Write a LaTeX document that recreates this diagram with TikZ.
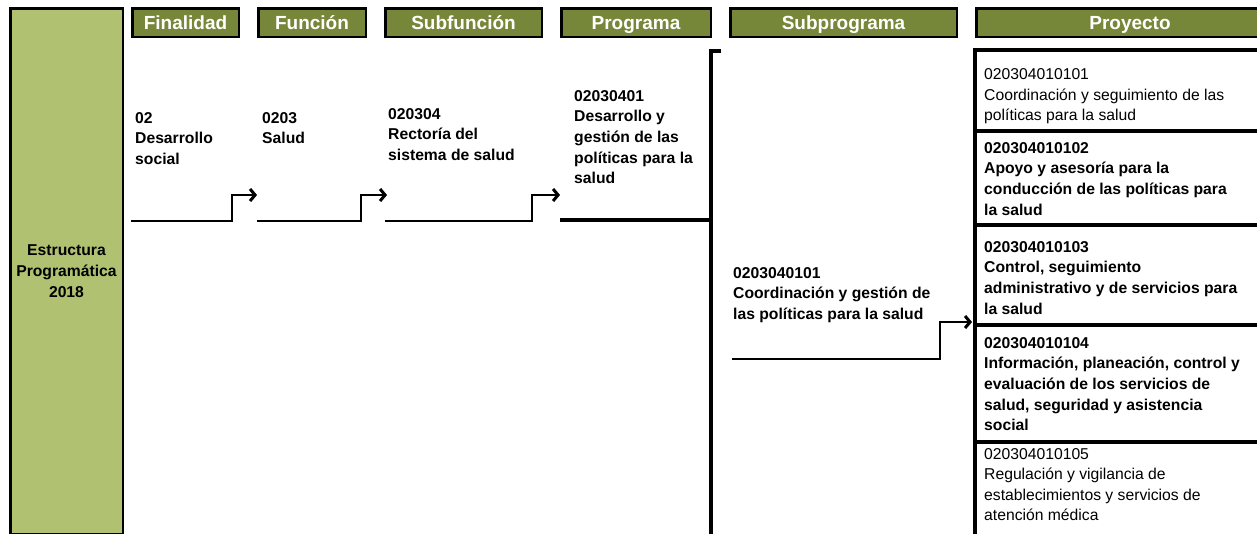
\documentclass[tikz,border=0pt]{standalone}
\usepackage{fontspec}
\setmainfont{Liberation Sans}
\usetikzlibrary{arrows.meta,positioning,calc}
\definecolor{OliveDark}{RGB}{118,135,58}
\definecolor{OliveLight}{RGB}{176,193,114}
\tikzset{
  head/.style={draw=black,fill=OliveDark,line width=2.5pt,text=white,
    font=\fontsize{19}{22}\selectfont\bfseries,minimum height=28.5pt,
    text height=13pt,text depth=0pt,inner sep=0pt},
  sidebox/.style={draw=black,fill=OliveLight,line width=2.5pt,align=center,
    font=\fontsize{15.7}{20.7}\selectfont\bfseries,minimum width=112.5pt,
    minimum height=525.5pt,anchor=north west},
  entry/.style={align=left,inner sep=0pt,anchor=north west,
    font=\fontsize{15.7}{20.7}\selectfont\bfseries},
  projtext/.style={align=left,inner sep=0pt,
    font=\fontsize{15.7}{20.5}\selectfont},
  projbold/.style={projtext,font=\fontsize{15.7}{20.7}\selectfont\bfseries},
  projbox/.style={draw=black,line width=4pt,outer sep=0pt,minimum width=330pt},
  link/.style={-{Straight Barb[length=5pt,width=12pt,line width=3pt]},
    line width=2.5pt},
  bar/.style={line width=4pt}
}

\begin{document}
\begin{tikzpicture}[x=1pt,y=-1pt,node distance=0pt]
  \useasboundingbox (0,0) rectangle (1257,533);

  \node[sidebox] (est) at (9,7) {Estructura\\Programática\\2018};

  % column headers
  \node[head,minimum width=106.5pt,anchor=north west] (fin) at (131,7) {Finalidad};
  \node[head,minimum width=107.5pt,right=17pt of fin] (fun) {Función};
  \node[head,minimum width=156.5pt,right=17pt of fun] (subf) {Subfunción};
  \node[head,minimum width=149.5pt,right=17pt of subf] (prog) {Programa};
  \node[head,minimum width=226.5pt,right=17pt of prog] (subp) {Subprograma};
  \node[head,minimum width=307.5pt,right=17pt of subp] (proy) {Proyecto};

  \node[entry] (d1) at (135,112) {02\\Desarrollo\\social};
  \node[entry] (d2) at (262,112) {0203\\Salud};
  \node[entry] (d3) at (388,108) {020304\\Rectoría del\\sistema de salud};
  \node[entry] (d4) at (574,90) {02030401\\Desarrollo y\\gestión de las\\políticas para la\\salud};
  \node[entry] (d5) at (733,267) {0203040101\\Coordinación y gestión de\\las políticas para la salud};

  % project boxes
  \node[projbox,minimum height=81pt,anchor=north west] (p1) at (975,50) {};
  \node[projbox,minimum height=94pt,below=of p1] (p2) {};
  \node[projbox,minimum height=100pt,below=of p2] (p3) {};
  \node[projbox,minimum height=117pt,below=of p3] (p4) {};
  \node[projbox,minimum height=100pt,below=of p4] (p5) {};

  \node[projtext,below right=18.5pt and 9pt of p1.north west] (t1)
    {020304010101\\Coordinación y seguimiento de las\\políticas para la salud};
  \node[projbold,below right=11pt and 9pt of p2.north west] (t2)
    {020304010102\\Apoyo y asesoría para la\\conducción de las políticas para\\la salud};
  \node[projbold,below right=16pt and 9pt of p3.north west] (t3)
    {020304010103\\Control, seguimiento\\administrativo y de servicios para\\la salud};
  \node[projbold,below right=12pt and 9pt of p4.north west] (t4)
    {020304010104\\Información, planeación, control y\\evaluación de los servicios de\\salud, seguridad y asistencia\\social};
  \node[projtext,below right=6pt and 9pt of p5.north west] (t5)
    {020304010105\\Regulación y vigilancia de\\establecimientos y servicios de\\atención médica};

  % connectors
  \coordinate (c1) at (131,221);
  \coordinate (e1) at (257,195);
  \coordinate (c2) at (257,221);
  \coordinate (e2) at (387,195);
  \coordinate (c3) at (385,221);
  \coordinate (e3) at (560,195);
  \coordinate (c4) at (560,220);
  \coordinate (brk) at (711,51);
  \coordinate (c5) at (732,359);
  \coordinate (e5) at (972,322);

  \draw[link] (c1) -- ++(101,0) |- (e1);
  \draw[link] (c2) -- ++(104,0) |- (e2);
  \draw[link] (c3) -- ++(147,0) |- (e3);
  \draw[bar] ($(brk)+(10,0)$) -- (brk) -- ++(0,490);
  \draw[bar] (c4) -- (c4 -| brk);
  \draw[link] (c5) -- ++(208,0) |- (e5);
\end{tikzpicture}
\end{document}
